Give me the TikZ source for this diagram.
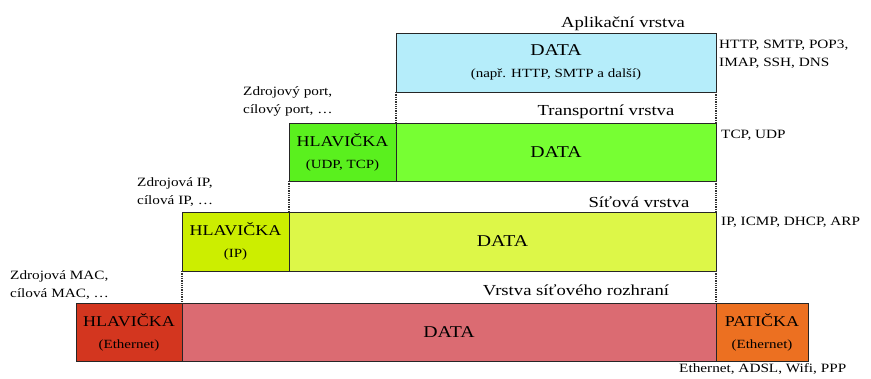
\documentclass[tikz,border=0pt]{standalone}
\usepackage{fontspec}
\setmainfont{Liberation Serif}
\usepackage{graphicx}
\usepackage{tikz}
\usepackage{amsmath}
\usepackage{xcolor}

\definecolor{appcol}{HTML}{B5EDFA}
\definecolor{trhdr}{HTML}{5AF01E}
\definecolor{trcol}{HTML}{77FF33}
\definecolor{inhdr}{HTML}{CCEE00}
\definecolor{incol}{HTML}{DDF748}
\definecolor{lnhdr}{HTML}{D3361F}
\definecolor{lncol}{HTML}{DB6B72}
\definecolor{lntrl}{HTML}{EC7021}

\newcommand{\hdrf}{\fontsize{15}{22}\selectfont}
\newcommand{\datf}{\fontsize{16.5}{22}\selectfont}
\newcommand{\subf}{\fontsize{12.5}{22}\selectfont}
\newcommand{\wide}[1]{\scalebox{1.2}[1]{#1}}

\tikzset{
  pbox/.style={draw=black!85, line width=0.8pt, inner sep=0pt, outer sep=0pt, align=center, font=\fontsize{12.5}{22}\selectfont},
  layer/.style={font=\fontsize{15.3}{18}\selectfont, inner sep=0pt, anchor=base, xscale=1.22},
  note/.style={font=\fontsize{12.7}{18}\selectfont, inner sep=0pt, align=left, anchor=base west, xscale=1.2},
  vdots/.style={densely dotted, line width=1.3pt, black!80}
}

\begin{document}
\begin{tikzpicture}[x=1pt,y=-1pt]
                \useasboundingbox (0,0) rectangle (871,378);

                \node (app) at (556,62.5) [pbox,fill=appcol,minimum width=320,minimum height=59] {\wide{\datf DATA}\\\wide{\subf (např. HTTP, SMTP a další)}};

                \node (thdr) at (342.5,152) [pbox,fill=trhdr,minimum width=107,minimum height=58] {\wide{\hdrf HLAVIČKA}\\\wide{\subf (UDP, TCP)}};
                \node (tdata) at (556,152) [pbox,fill=trcol,minimum width=320,minimum height=58] {\wide{\datf DATA}};

                \node (ihdr) at (235.5,241.5) [pbox,fill=inhdr,minimum width=107,minimum height=59] {\wide{\hdrf HLAVIČKA}\\\wide{\subf (IP)}};
                \node (idata) at (502.5,241.5) [pbox,fill=incol,minimum width=427,minimum height=59] {\wide{\datf DATA}};

                \node (ehdr) at (129,332) [pbox,fill=lnhdr,minimum width=106,minimum height=58] {\wide{\hdrf HLAVIČKA}\\\wide{\subf (Ethernet)}};
                \node (edata) at (449,332) [pbox,fill=lncol,minimum width=534,minimum height=58] {\wide{\datf DATA}};
                \node (etrl) at (762,332) [pbox,fill=lntrl,minimum width=92,minimum height=58] {\wide{\hdrf PATIČKA}\\\wide{\subf (Ethernet)}};

                \draw[vdots] (app.south west) -- (tdata.north west) (app.south east) -- (tdata.north east);
                \draw[vdots] (thdr.south west) -- (ihdr.north east) (tdata.south east) -- (idata.north east);
                \draw[vdots] (ihdr.south west) -- (ehdr.north east) (idata.south east) -- (edata.north east);

                \node (lapp) at (623,27) [layer] {Aplikační vrstva};
                \node (ltra) at (606,115) [layer] {Transportní vrstva};
                \node (lnet) at (639,207) [layer] {Síťová vrstva};
                \node (llnk) at (576,295) [layer] {Vrstva síťového rozhraní};

                \node (napp) at (719,66) [note] {HTTP, SMTP, POP3,\\IMAP, SSH, DNS};
                \node (ntra) at (721,138) [note] {TCP, UDP};
                \node (nnet) at (721,225) [note] {IP, ICMP, DHCP, ARP};
                \node (nlnk) at (679,372) [note] {Ethernet, ADSL, Wifi, PPP};

                \node (stra) at (243,113) [note] {Zdrojový port,\\cílový port, \dots};
                \node (snet) at (137,204) [note] {Zdrojová IP,\\cílová IP, \dots};
                \node (slnk) at (10,297) [note] {Zdrojová MAC,\\cílová MAC, \dots};

            \end{tikzpicture}
\end{document}
